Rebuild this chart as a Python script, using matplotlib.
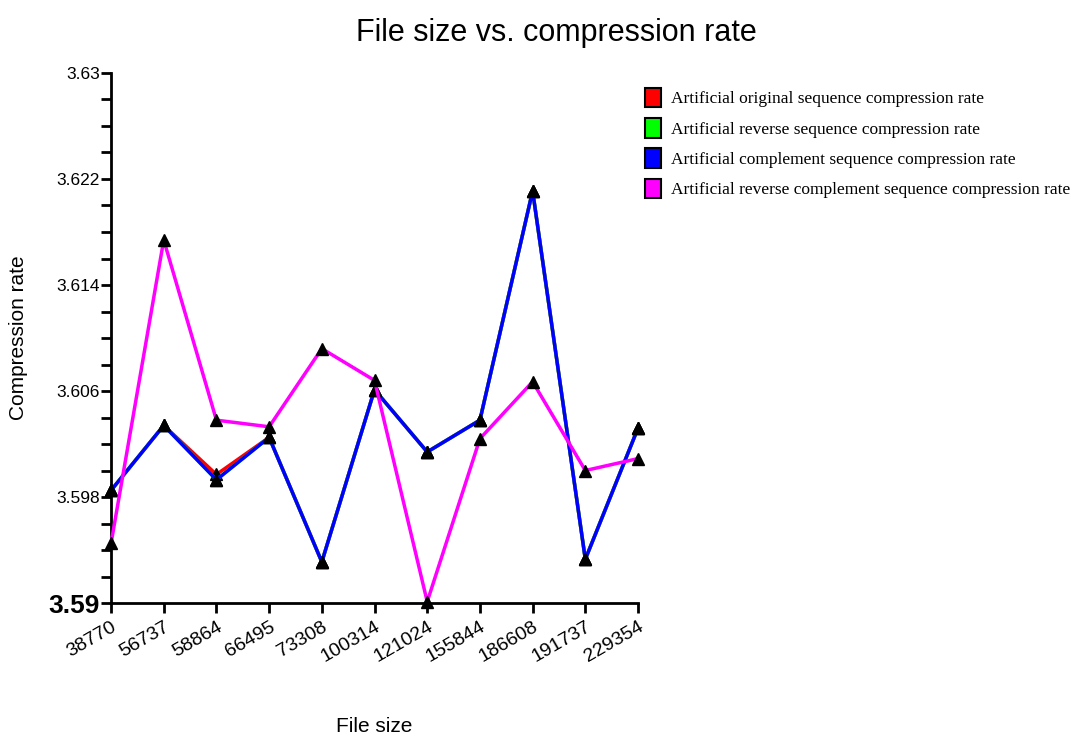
import matplotlib.pyplot as plt
import numpy as np

file_sizes = ["38770", "56737", "58864", "66495", "73308", "100314",
              "121024", "155844", "186608", "191737", "229354"]

original = [3.5985, 3.6034, 3.5997, 3.6025, 3.5931, 3.6061,
            3.6014, 3.6038, 3.6211, 3.5933, 3.6032]
reverse = [3.5985, 3.6034, 3.5993, 3.6025, 3.5931, 3.6061,
           3.6014, 3.6038, 3.6211, 3.5933, 3.6032]
complement = [3.5985, 3.6034, 3.5993, 3.6025, 3.5931, 3.6061,
              3.6014, 3.6038, 3.6211, 3.5933, 3.6032]
rev_complement = [3.5945, 3.6174, 3.6038, 3.6033, 3.6092, 3.6068,
                  3.5901, 3.6024, 3.6067, 3.6000, 3.6009]

labels = ["Artificial original sequence compression rate",
          "Artificial reverse sequence compression rate",
          "Artificial complement sequence compression rate",
          "Artificial reverse complement sequence compression rate"]
colors = ["#ff0000", "#00ff00", "#0000ff", "#ff00ff"]

sans = ["Liberation Sans", "DejaVu Sans"]

fig = plt.figure(figsize=(10.77, 7.41), dpi=100)
ax = fig.add_axes([0.1031, 0.1862, 0.4893, 0.7153])

x = np.arange(len(file_sizes))
for ys, c, lab in zip([original, reverse, complement, rev_complement], colors, labels):
    ax.plot(x, ys, color=c, lw=2.5, marker="^", ms=9, mfc="black", mec="black",
            label=lab, zorder=3, clip_on=False)

ax.set_xlim(0, len(file_sizes) - 1)
ax.set_ylim(3.59, 3.63)
ax.set_xticks(x)
ax.set_xticklabels(file_sizes, rotation=30, ha="right", rotation_mode="anchor",
                   family=sans, fontsize=14)
yt = [3.59, 3.598, 3.606, 3.614, 3.622, 3.63]
ax.set_yticks(yt)
ax.set_yticklabels(["3.59", "3.598", "3.606", "3.614", "3.622", "3.63"],
                   family=sans, fontsize=12.5)
ax.get_yticklabels()[0].set_fontsize(19)
ax.get_yticklabels()[0].set_fontweight("bold")
ax.set_yticks(np.arange(3.59, 3.6301, 0.002), minor=True)
ax.tick_params(axis="both", which="both", direction="out", width=2, length=7)
ax.tick_params(axis="y", which="both", pad=1)
ax.tick_params(axis="x", pad=4)

for s in ["top", "right"]:
    ax.spines[s].set_visible(False)
for s in ["left", "bottom"]:
    ax.spines[s].set_linewidth(2)

ax.set_xlabel("File size", family=sans, fontsize=15)
ax.xaxis.set_label_coords(0.5, -0.215)
ax.set_ylabel("Compression rate", family=sans, fontsize=15)
ax.yaxis.set_label_coords(-0.158, 0.5)

fig.text(0.517, 0.955, "File size vs. compression rate", family=sans,
         fontsize=22, ha="center", va="center")

handles = [plt.Rectangle((0, 0), 1, 1, fc=c, ec="black", lw=1.5) for c in colors]
fig.legend(handles, labels, loc="upper left", bbox_to_anchor=(0.592, 0.891),
           frameon=False, prop={"family": ["Liberation Serif", "DejaVu Serif"], "size": 12.5},
           handlelength=0.95, handleheight=1.35, handletextpad=0.6, labelspacing=0.62,
           borderaxespad=0)

fig.savefig("out.png", dpi=100)
